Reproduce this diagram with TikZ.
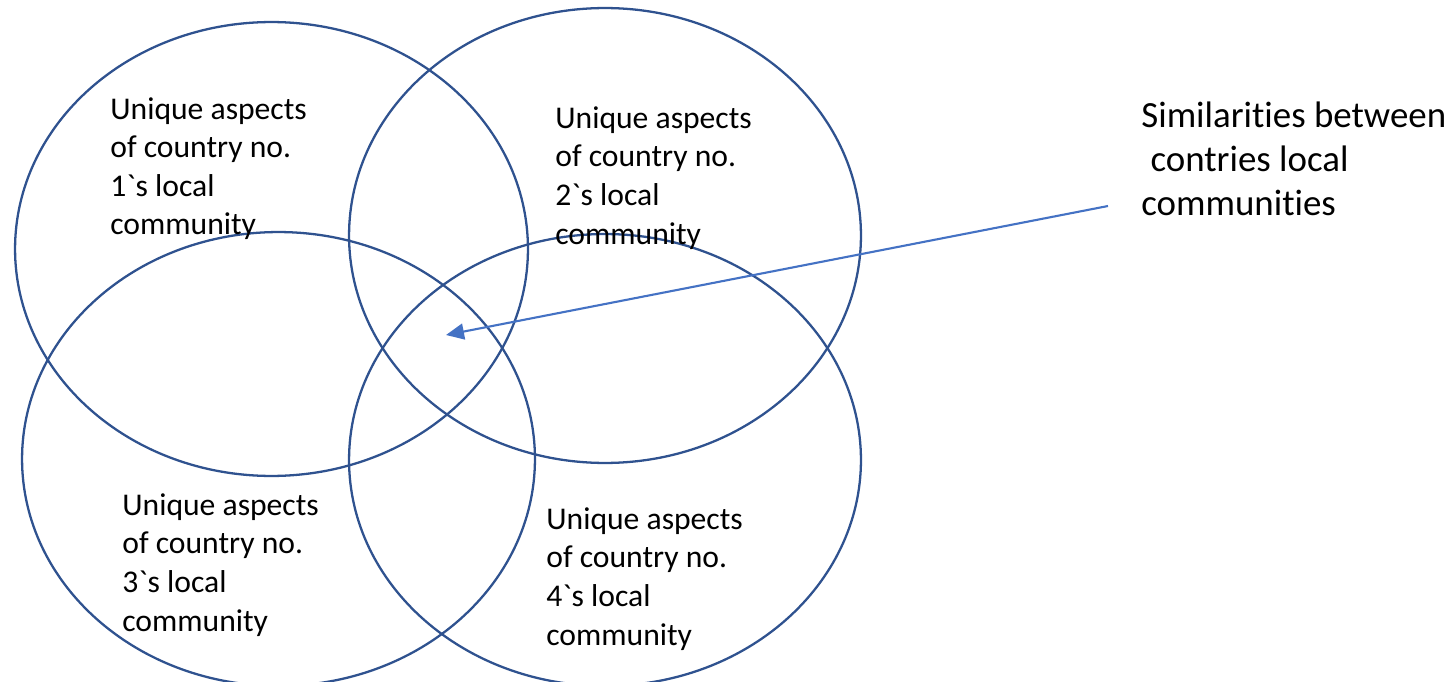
\documentclass[tikz,border=0pt]{standalone}
\usepackage{fontspec}
\setmainfont{Carlito}[Ligatures={TeXOff,CommonOff}]
\usepackage{tikz}
\usetikzlibrary{arrows.meta}
\definecolor{setblue}{HTML}{2F528F}
\definecolor{pointblue}{HTML}{4472C4}

\begin{document}
\begin{tikzpicture}[x=0.02cm, y=-0.02cm,
    set/.style={draw=setblue, line width=1.3pt},
    aspect/.style={align=left, anchor=base west, inner sep=0pt,
      font=\fontsize{18}{22}\selectfont},
    similar/.style={align=left, anchor=base west, inner sep=0pt,
      font=\fontsize{21}{24.8}\selectfont},
    pointer/.style={draw=pointblue, line width=1.2pt,
      -{Triangle[length=0.36cm, width=0.32cm]}}]

    \useasboundingbox (0, 0) rectangle (1453, 682);

    % the four countries
    \draw [set] (271.5, 249) ellipse [x radius=5.13cm, y radius=4.54cm];
    \draw [set] (605, 235.5) ellipse [x radius=5.12cm, y radius=4.55cm];
    \draw [set] (278.5, 459) ellipse [x radius=5.13cm, y radius=4.54cm];
    \draw [set] (605, 460) ellipse [x radius=5.12cm, y radius=4.52cm];

    % base anchor sits on the last line
    \node [aspect] (u1) at (110, 235)
      {Unique aspects\\of country no.\\1`s local\\community};
    \node [aspect] (u2) at (555, 244)
      {Unique aspects\\of country no.\\2`s local\\community};
    \node [aspect] (u3) at (122, 631)
      {Unique aspects\\of country no.\\3`s local\\community};
    \node [aspect] (u4) at (546, 645)
      {Unique aspects\\of country no.\\4`s local\\community};

    \node [similar] (sim) at (1141, 215)
      {Similarities between\\\hspace*{.25em}contries local\\communities};

    \coordinate (simtail) at (1108, 206);
    \coordinate (simtip) at (446, 335);
    \draw [pointer] (simtail) -- (simtip);

\end{tikzpicture}
\end{document}
